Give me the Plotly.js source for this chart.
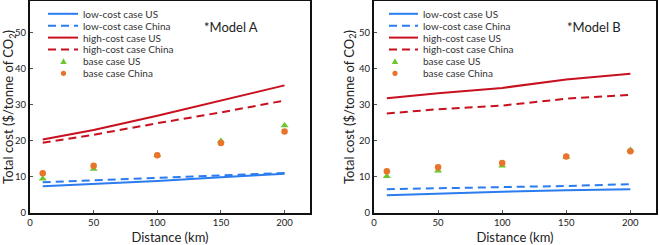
<!DOCTYPE html>
<html><head><meta charset="utf-8">
<script src="https://cdn.plot.ly/plotly-3.0.1.min.js"></script>
<style>html,body{margin:0;padding:0;background:#fff}#c{width:659px;height:245px}</style>
</head><body><div id="c"></div>
<script>
const distance = [10, 50, 100, 150, 200];
// Model A
const lowUS_A = [7.4, 8.0, 8.9, 9.9, 10.9];
const lowCN_A = [8.5, 9.1, 9.7, 10.4, 11.1];
const highUS_A = [20.4, 23.0, 27.0, 31.1, 35.4];
const highCN_A = [19.5, 21.7, 24.9, 27.9, 31.2];
const baseUS_A = [9.5, 12.2, 16.0, 20.0, 24.3];
const baseCN_A = [11.0, 13.1, 16.0, 19.4, 22.6];
// Model B
const lowUS_B = [4.9, 5.4, 5.9, 6.3, 6.6];
const lowCN_B = [6.6, 6.8, 7.2, 7.5, 8.0];
const highUS_B = [31.8, 33.2, 34.7, 37.0, 38.6];
const highCN_B = [27.6, 28.8, 29.8, 31.7, 32.8];
const baseUS_B = [10.2, 11.7, 13.1, 15.5, 17.5];
const baseCN_B = [11.6, 12.7, 13.9, 15.7, 17.1];

const names = ['low-cost case US','low-cost case China','high-cost case US','high-cost case China','base case US','base case China'];
const modelLabels = ['*Model A','*Model B'];
const xTicks = [0, 50, 100, 150, 200];
const yTicks = [0, 10, 20, 30, 40, 50];
const xTitle = 'Distance (km)';
const yTitle = 'Total cost ($/tonne of CO<sub>2</sub>)';

const BLUE='#2a7cf0', RED='#c8101e', GREEN='#6cc62e', ORANGE='#e8742c';
const FONT='Lato, sans-serif';
const TXT='#222';
const DASH='8px,5px';

const M={l:30,r:3,t:1,b:32}, W=659, H=245;
const PW=W-M.l-M.r, PH=H-M.t-M.b;
const px=v=>(v-M.l)/PW, py=v=>(H-M.b-v)/PH;

function series(sets, xa, ya){
  const [lu, lc, hu, hc, bu, bc] = sets;
  return [
    {x:distance,y:lu,mode:'lines',line:{color:BLUE,width:2},name:names[0],xaxis:xa,yaxis:ya},
    {x:distance,y:lc,mode:'lines',line:{color:BLUE,width:2,dash:DASH},name:names[1],xaxis:xa,yaxis:ya},
    {x:distance,y:hu,mode:'lines',line:{color:RED,width:2},name:names[2],xaxis:xa,yaxis:ya},
    {x:distance,y:hc,mode:'lines',line:{color:RED,width:2,dash:DASH},name:names[3],xaxis:xa,yaxis:ya},
    {x:distance,y:bu,mode:'markers',marker:{color:GREEN,symbol:'triangle-up',size:7},name:names[4],xaxis:xa,yaxis:ya},
    {x:distance,y:bc,mode:'markers',marker:{color:ORANGE,symbol:'circle',size:6.5},name:names[5],xaxis:xa,yaxis:ya}
  ];
}
const data = [
  ...series([lowUS_A,lowCN_A,highUS_A,highCN_A,baseUS_A,baseCN_A],'x','y'),
  ...series([lowUS_B,lowCN_B,highUS_B,highCN_B,baseUS_B,baseCN_B],'x2','y2')
];

const shapes=[], annotations=[];
const legendStyle=[
  {kind:'line',color:BLUE,dash:'solid'},{kind:'line',color:BLUE,dash:DASH},
  {kind:'line',color:RED,dash:'solid'},{kind:'line',color:RED,dash:DASH},
  {kind:'tri',color:GREEN},{kind:'dot',color:ORANGE}];
function addLegend(x0,x1,mx,tx){
  names.forEach((n,i)=>{
    const yy=13.8+11.9*i, st=legendStyle[i];
    if(st.kind==='line'){
      shapes.push({type:'line',xref:'paper',yref:'paper',x0:px(x0),x1:px(x1),y0:py(yy),y1:py(yy),line:{color:st.color,width:2,dash:st.dash}});
    } else if(st.kind==='tri'){
      shapes.push({type:'path',xref:'paper',yref:'paper',fillcolor:st.color,line:{width:0},
        path:`M${px(mx-3.2)},${py(yy+2.6)} L${px(mx+3.2)},${py(yy+2.6)} L${px(mx)},${py(yy-3.2)} Z`});
    } else {
      shapes.push({type:'circle',xref:'paper',yref:'paper',fillcolor:st.color,line:{width:0},
        x0:px(mx-2.6),x1:px(mx+2.6),y0:py(yy+2.6),y1:py(yy-2.6)});
    }
    annotations.push({text:n,xref:'paper',yref:'paper',x:px(tx),y:py(yy),xanchor:'left',yanchor:'middle',
      showarrow:false,font:{family:FONT,size:10,color:'#333'}});
  });
}
addLegend(48,78,63.5,80.5);
addLegend(389,418,395,420.5);
annotations.push({text:modelLabels[0],xref:'paper',yref:'paper',x:px(231),y:py(27),xanchor:'center',yanchor:'middle',showarrow:false,font:{family:FONT,size:13,color:TXT}});
annotations.push({text:modelLabels[1],xref:'paper',yref:'paper',x:px(594),y:py(27),xanchor:'center',yanchor:'middle',showarrow:false,font:{family:FONT,size:13,color:TXT}});

const axBase = {showline:true,mirror:true,linecolor:'#111',linewidth:2,ticks:'inside',ticklen:3,tickwidth:1,tickcolor:'#555',
  showgrid:false,zeroline:false,tickfont:{family:FONT,size:9.5,color:TXT},automargin:false,fixedrange:true};
const xCommon = {...axBase,range:[0,220],tickvals:xTicks,title:{text:xTitle,font:{family:FONT,size:13,color:TXT},standoff:7}};
const yCommon = {...axBase,range:[0,58.8],tickvals:yTicks,title:{text:yTitle,font:{family:FONT,size:13,color:TXT},standoff:2}};
const layout = {
  width:W,height:H,margin:M,paper_bgcolor:'#fff',plot_bgcolor:'#fff',showlegend:false,
  xaxis:{...xCommon,domain:[0,(310-M.l)/PW],anchor:'y'},
  yaxis:{...yCommon,domain:[0,1],anchor:'x'},
  xaxis2:{...xCommon,domain:[(374-M.l)/PW,1],anchor:'y2'},
  yaxis2:{...yCommon,domain:[0,1],anchor:'x2'},
  shapes, annotations
};
Plotly.newPlot('c',data,layout,{displayModeBar:false,staticPlot:true});
</script></body></html>
